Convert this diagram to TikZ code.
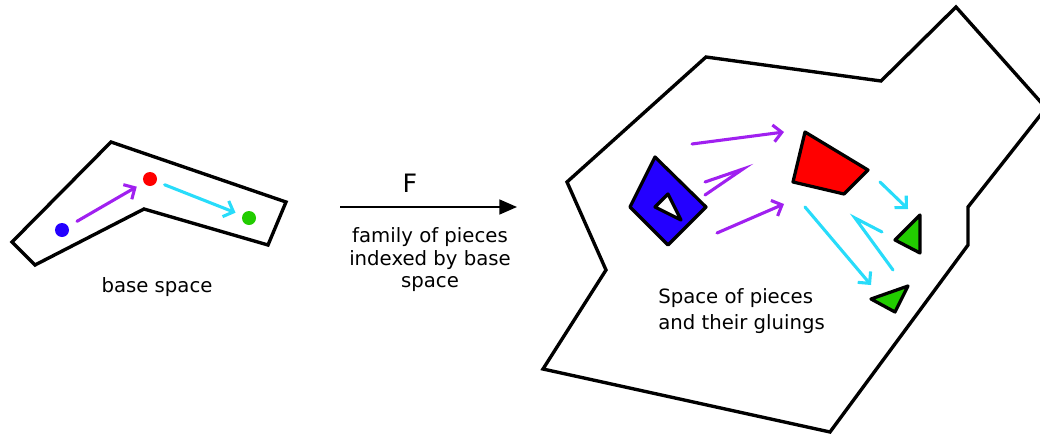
\documentclass[tikz,border=0pt]{standalone}
\usepackage{fontspec}
\setmainfont{DejaVu Sans}
\usetikzlibrary{positioning, arrows.meta}

\definecolor{morado}{RGB}{160,32,240}
\definecolor{celeste}{RGB}{40,220,250}
\definecolor{azul}{RGB}{36,0,255}
\definecolor{rojo}{RGB}{255,0,0}
\definecolor{verde}{RGB}{34,204,0}

\begin{document}
\begin{tikzpicture}[
    % Estilos (coordenadas en pixeles)
    x=0.025cm, y=-0.025cm,
    borde/.style={line width=2.4pt, line join=miter},
    pieza/.style={line width=2.3pt, line join=round},
    punto/.style={circle, inner sep=0pt, minimum size=0.35cm},
    flecha/.style={line width=2.2pt, line cap=round, -{Straight Barb[length=6pt, width=12pt]}},
    barba/.style={line width=2.2pt, line cap=round, line join=miter},
    principal/.style={line width=1.5pt, -{Triangle[length=12.5pt, width=10.5pt]}},
    texto/.style={font=\fontsize{14}{16}\selectfont, inner sep=0pt},
    ]

    \useasboundingbox (0,0) rectangle (1040,434);

    % ESPACIO BASE
    \draw[borde] (111,142) -- (286,202) -- (268,245) -- (144,209) -- (35,265) -- (12,242) -- cycle;
    \node[punto, fill=azul] (p_azul) at (62,230) {};
    \node[punto, fill=rojo] (p_rojo) at (150,179) {};
    \node[punto, fill=verde] (p_verde) at (249,218) {};
    \draw[flecha, morado, shorten <=0.25cm, shorten >=0.2cm] (p_azul) -- (p_rojo);
    \draw[flecha, celeste, shorten <=0.21cm, shorten >=0.18cm] (p_rojo) -- (p_verde);
    \node[texto] (base) at (157,287) {base space};

    % FLECHA F
    \coordinate (f_ini) at (340,207);
    \coordinate (f_fin) at (517,207);
    \draw[principal] (f_ini) -- (f_fin);
    \node[texto, font=\fontsize{18}{20}\selectfont] (f) at (410,183) {F};
    \node[texto, align=center] (familia) at (430,260) {family of pieces\\indexed by base\\space};

    % ESPACIO DE PIEZAS
    \draw[borde] (706,57) -- (881,81) -- (956,7) -- (1046,108) -- (968,207) -- (968,245)
        -- (830,432) -- (543,369) -- (606,270) -- (567,182) -- cycle;

    % piezas
    \draw[pieza, fill=azul] (655,157) -- (706,207) -- (668,245) -- (630,207) -- cycle;
    \draw[pieza, fill=white] (655,207) -- (668,194) -- (681,220) -- cycle;
    \draw[pieza, fill=rojo] (805,132) -- (868,170) -- (844,194) -- (793,182) -- cycle;
    \draw[pieza, fill=verde] (920,215) -- (920,253) -- (895,240) -- cycle;
    \draw[pieza, fill=verde] (908,286) -- (895,312) -- (871,299) -- cycle;

    % pegados (morado)
    \coordinate (m1_ini) at (692,144);
    \coordinate (m1_fin) at (784,132);
    \coordinate (m2_a) at (705,182);
    \coordinate (m2_tip) at (743,169);
    \coordinate (m2_b) at (705,195);
    \coordinate (m3_ini) at (717,233);
    \coordinate (m3_fin) at (784,204);
    \draw[flecha, morado] (m1_ini) -- (m1_fin);
    \draw[barba, morado] (m2_a) -- (m2_tip) -- (m2_b);
    \draw[flecha, morado] (m3_ini) -- (m3_fin);

    % pegados (celeste)
    \coordinate (c1_ini) at (880,182);
    \coordinate (c1_fin) at (908,209);
    \coordinate (c2_ini) at (805,207);
    \coordinate (c2_fin) at (871,285);
    \coordinate (c3_ini) at (893,270);
    \coordinate (c3_tip) at (855,218);
    \coordinate (c3_b) at (882,232);
    \draw[flecha, celeste] (c1_ini) -- (c1_fin);
    \draw[flecha, celeste] (c2_ini) -- (c2_fin);
    \draw[barba, celeste] (c3_ini) -- (c3_tip) -- (c3_b);

    \node[texto, anchor=west, align=left, font=\fontsize{14}{18}\selectfont] (piezas) at (658,311) {Space of pieces\\and their gluings};

\end{tikzpicture}
\end{document}
